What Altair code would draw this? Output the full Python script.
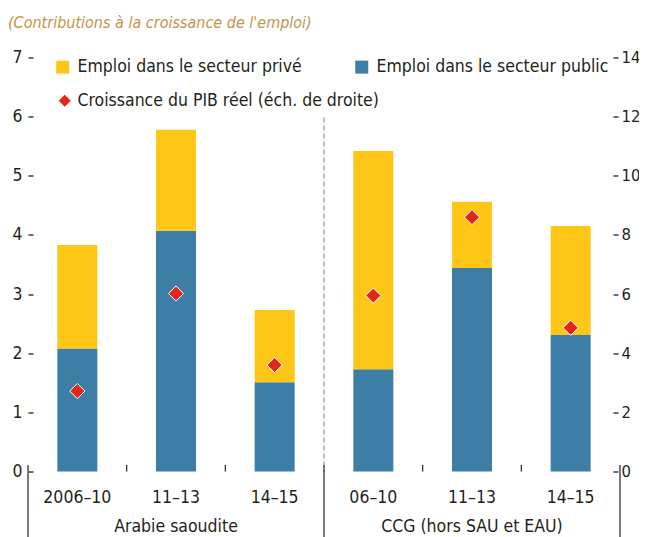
import altair as alt
import pandas as pd

# ---- data ----
groups = ["Arabie saoudite", "Arabie saoudite", "Arabie saoudite",
          "CCG (hors SAU et EAU)", "CCG (hors SAU et EAU)", "CCG (hors SAU et EAU)"]
periods = ["2006–10", "11–13", "14–15", "06–10", "11–13", "14–15"]
public_emp = [2.08, 4.07, 1.51, 1.73, 3.44, 2.31]
private_emp = [1.75, 1.71, 1.22, 3.69, 1.12, 1.84]
gdp_growth = [2.72, 6.02, 3.60, 5.95, 8.60, 4.86]
left_ticks = [0, 1, 2, 3, 4, 5, 6, 7]
right_ticks = [0, 2, 4, 6, 8, 10, 12, 14]
series_private = "Emploi dans le secteur privé"
series_public = "Emploi dans le secteur public"
series_gdp = "Croissance du PIB réel (éch. de droite)"
subtitle = "(Contributions à la croissance de l'emploi)"

FONT = "DejaVu Sans Condensed, Liberation Sans Narrow, sans-serif"
FS = 17.5
TXT = "#231F20"
YELLOW = "#FEC718"
BLUE = "#3D7EA6"
RED = "#E3261C"
GOLD = "#C3954A"

keys = [f"{g}|{p}" for g, p in zip(groups, periods)]

bars_df = pd.DataFrame(
    [{"key": k, "series": series_public, "value": v, "ord": 0} for k, v in zip(keys, public_emp)]
    + [{"key": k, "series": series_private, "value": v, "ord": 1} for k, v in zip(keys, private_emp)]
)
gdp_df = pd.DataFrame({"key": keys, "gdp": gdp_growth, "series": series_gdp})
period_df = pd.DataFrame({"key": keys, "period": periods})
tick_df = pd.DataFrame({"key": [keys[1], keys[2], keys[4], keys[5]]})
div_start_df = pd.DataFrame({"key": [keys[0], keys[3]]})
div_end_df = pd.DataFrame({"key": [keys[5]]})
dash_df = pd.DataFrame({"key": [keys[3]]})
group_df = pd.DataFrame({"key": [keys[1], keys[4]], "group": [groups[0], groups[3]]})

W, H = 592, 414
xscale = alt.Scale(domain=keys, paddingInner=0, paddingOuter=0)

def xenc(**kw):
    return alt.X("key:N", scale=xscale, sort=keys, axis=None, **kw)

bars = alt.Chart(bars_df).mark_bar(size=40).encode(
    x=alt.X("key:N", scale=xscale, sort=keys,
            axis=alt.Axis(title=None, labels=False, ticks=False, domain=True,
                          domainColor=TXT, domainWidth=1.2)),
    y=alt.Y("value:Q", stack="zero",
            scale=alt.Scale(domain=[0, 7], nice=False, zero=True),
            axis=alt.Axis(title=None, orient="left", values=left_ticks, domain=False,
                          grid=False, tickSize=5, tickWidth=1.3, tickColor=TXT,
                          offset=-5, labelPadding=6, labelFontSize=FS, labelFont=FONT,
                          labelColor=TXT, format="d")),
    color=alt.Color("series:N",
                    scale=alt.Scale(domain=[series_private, series_public], range=[YELLOW, BLUE]),
                    legend=alt.Legend(title=None, orient="none", direction="horizontal",
                                      legendX=26, legendY=0.5, symbolType="square",
                                      symbolSize=169, symbolStrokeWidth=0,
                                      labelFontSize=FS, labelFont=FONT, labelColor=TXT,
                                      labelOffset=6, labelLimit=400, columnPadding=51,
                                      padding=0)),
    order=alt.Order("ord:Q"),
)

legend_gdp = alt.Legend(title=None, orient="none", legendX=28, legendY=34.5,
                        symbolSize=144, symbolStrokeWidth=0, labelFontSize=FS,
                        labelFont=FONT, labelColor=TXT, labelOffset=4, labelLimit=400,
                        padding=0)

points = alt.Chart(gdp_df).mark_point(filled=True, size=230, stroke="white",
                                      strokeWidth=1, opacity=1).encode(
    x=xenc(),
    y=alt.Y("gdp:Q", scale=alt.Scale(domain=[0, 14], nice=False),
            axis=alt.Axis(title=None, orient="right", values=right_ticks, domain=False,
                          grid=False, tickSize=5, tickWidth=1.3, tickColor=TXT,
                          offset=-7, labelPadding=3, labelFontSize=16.5, labelFont=FONT,
                          labelColor=TXT, format="d")),
    fill=alt.Fill("series:N", scale=alt.Scale(domain=[series_gdp], range=[RED]), legend=legend_gdp),
    shape=alt.Shape("series:N", scale=alt.Scale(domain=[series_gdp], range=["diamond"]), legend=legend_gdp),
)

small_ticks = alt.Chart(tick_df).mark_rule(color=TXT, strokeWidth=1.2).encode(
    x=xenc(bandPosition=0), y=alt.value(407.5), y2=alt.value(H),
)
div_start = alt.Chart(div_start_df).mark_rule(color=TXT, strokeWidth=1.2).encode(
    x=xenc(bandPosition=0), y=alt.value(407.5), y2=alt.value(H + 70),
)
div_end = alt.Chart(div_end_df).mark_rule(color=TXT, strokeWidth=1.2).encode(
    x=xenc(bandPosition=1), y=alt.value(407.5), y2=alt.value(H + 70),
)
dashed = alt.Chart(dash_df).mark_rule(color="#9A9A9A", strokeWidth=1.3, strokeDash=[5, 3]).encode(
    x=xenc(bandPosition=0), y=alt.value(60), y2=alt.value(H),
)
period_labels = alt.Chart(period_df).mark_text(fontSize=FS, font=FONT, color=TXT,
                                               baseline="middle", align="center").encode(
    x=xenc(), y=alt.value(H + 26), text="period:N",
)
group_labels = alt.Chart(group_df).mark_text(fontSize=FS, font=FONT, color=TXT,
                                             baseline="middle", align="center").encode(
    x=xenc(), y=alt.value(469.5), text="group:N",
)

chart = alt.layer(
    bars, dashed, small_ticks, div_start, div_end, period_labels, group_labels, points
).resolve_scale(
    y="independent"
).properties(
    width=W, height=H,
    autosize=alt.AutoSizeParams(type="none"),
    padding={"left": 20, "top": 49.5, "right": 19, "bottom": 65.5},
    title=alt.TitleParams(text=subtitle, anchor="start", frame="group", dx=-20,
                          offset=18, fontSize=16, font=FONT, fontStyle="italic",
                          fontWeight="normal", color=GOLD),
).configure_view(stroke=None)

chart.save("out.html", embed_options={"renderer": "svg", "actions": False})
